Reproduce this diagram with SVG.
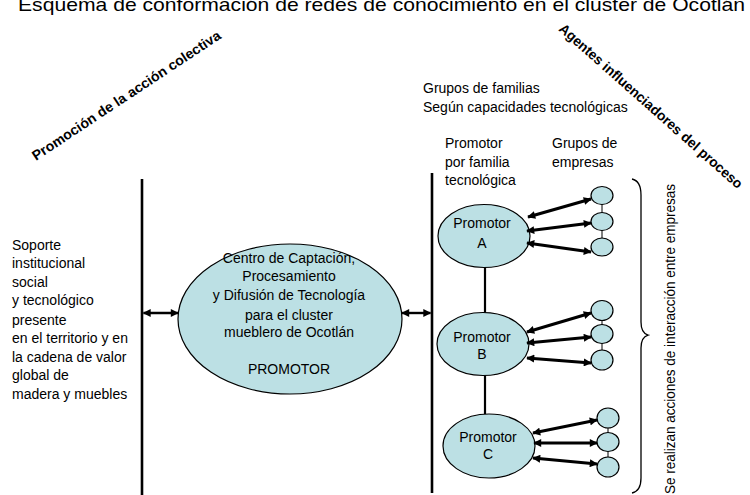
<svg xmlns="http://www.w3.org/2000/svg" width="750" height="495" viewBox="0 0 750 495">
<style>
text{font-family:"Liberation Sans",Arial,sans-serif;font-size:14px;fill:#000}
.b{font-weight:bold}
.c{text-anchor:middle}
.node{fill:#BCE0E4;stroke:#000;stroke-width:1.2}
.vl{stroke:#000;stroke-width:2.6;fill:none}
.cn{stroke:#000;stroke-width:2.2;fill:none}
.ar{stroke:#000;stroke-width:3;fill:none;marker-start:url(#ah);marker-end:url(#ah)}
.ar2{stroke:#000;stroke-width:2.4;fill:none;marker-start:url(#ah);marker-end:url(#ah)}
.sm{stroke:#000;stroke-width:1;fill:none}
</style>
<defs>
<marker id="ah" viewBox="0 0 10 10" refX="9" refY="5" markerWidth="9" markerHeight="8" markerUnits="userSpaceOnUse" orient="auto-start-reverse">
<path d="M0,0 L10,5 L0,10 z" fill="#000"/>
</marker>
</defs>
<rect width="750" height="495" fill="#fff"/>
<text x="18" y="11" style="font-size:18.5px" textLength="727" lengthAdjust="spacingAndGlyphs">Esquema de conformación de redes de conocimiento en el cluster de Ocotlán</text>
<text class="b" transform="translate(36,161) rotate(-33.5)" textLength="223" lengthAdjust="spacingAndGlyphs">Promoción de la acción colectiva</text>
<text class="b" transform="translate(558,30) rotate(41.6)" textLength="240" lengthAdjust="spacingAndGlyphs">Agentes influenciadores del proceso</text>
<g id="soporte">
<text x="12" y="250">Soporte</text>
<text x="12" y="268">institucional</text>
<text x="12" y="287">social</text>
<text x="12" y="305">y tecnológico</text>
<text x="12" y="325">presente</text>
<text x="12" y="343">en el territorio y en</text>
<text x="12" y="362">la cadena de valor</text>
<text x="12" y="380">global de</text>
<text x="12" y="399">madera y muebles</text>
</g>
<g id="labels">
<text x="423" y="93">Grupos de familias</text>
<text x="423" y="112">Según capacidades tecnológicas</text>
<text x="445" y="148">Promotor</text>
<text x="445" y="167">por familia</text>
<text x="445" y="185">tecnológica</text>
<text x="552" y="148">Grupos de</text>
<text x="552" y="167">empresas</text>
<text transform="translate(675,494) rotate(-90)" textLength="310" lengthAdjust="spacingAndGlyphs">Se realizan acciones de interacción entre empresas</text>
</g>
<g id="centro">
<ellipse class="node" cx="290" cy="319" rx="112" ry="75"/>
<text class="c" x="289" y="263">Centro de Captación,</text>
<text class="c" x="289" y="281">Procesamiento</text>
<text class="c" x="289" y="300">y Difusión de Tecnología</text>
<text class="c" x="289" y="320">para el cluster</text>
<text class="c" x="289" y="337">mueblero de Ocotlán</text>
<text class="c" x="289" y="374">PROMOTOR</text>
</g>
<g id="promotorA">
<ellipse class="node" cx="484" cy="236" rx="46" ry="31.5"/>
<text class="c" x="482" y="228">Promotor</text>
<text class="c" x="482" y="248">A</text>
</g>
<g id="promotorB">
<ellipse class="node" cx="483" cy="344" rx="46" ry="31.5"/>
<text class="c" x="482" y="342">Promotor</text>
<text class="c" x="482" y="359">B</text>
</g>
<g id="promotorC">
<ellipse class="node" cx="489" cy="446" rx="46" ry="32"/>
<text class="c" x="488" y="442">Promotor</text>
<text class="c" x="488" y="459">C</text>
</g>
<g id="empresasA">
<line class="sm" x1="602" y1="195" x2="602" y2="247"/>
<ellipse class="node" cx="602" cy="195.5" rx="11" ry="9"/>
<ellipse class="node" cx="602" cy="221.5" rx="11" ry="9"/>
<ellipse class="node" cx="602" cy="247" rx="11" ry="9"/>
</g>
<g id="empresasB">
<line class="sm" x1="602" y1="310" x2="602" y2="360"/>
<ellipse class="node" cx="602" cy="310.5" rx="11" ry="10"/>
<ellipse class="node" cx="602" cy="334" rx="11" ry="9.5"/>
<ellipse class="node" cx="602" cy="360" rx="11" ry="10"/>
</g>
<g id="empresasC">
<line class="sm" x1="608" y1="418" x2="608" y2="467"/>
<ellipse class="node" cx="608" cy="418" rx="11" ry="10"/>
<ellipse class="node" cx="608" cy="442" rx="11" ry="9.5"/>
<ellipse class="node" cx="608" cy="467" rx="11" ry="10"/>
</g>
<g id="connectors">
<line class="vl" x1="142" y1="179" x2="142" y2="495"/>
<line class="vl" x1="432" y1="173" x2="432" y2="493"/>
<line class="ar2" x1="143.5" y1="313" x2="178" y2="313"/>
<line class="ar2" x1="402" y1="313" x2="430.5" y2="313"/>
<line class="cn" x1="485" y1="267.5" x2="485" y2="312.5"/>
<line class="cn" x1="485" y1="375.5" x2="485" y2="414"/>
<line class="ar" x1="528" y1="217" x2="591" y2="199"/>
<line class="ar" x1="527" y1="231" x2="591" y2="223"/>
<line class="ar" x1="527" y1="243" x2="591" y2="252"/>
<line class="ar" x1="527" y1="332" x2="591" y2="313"/>
<line class="ar" x1="527" y1="343" x2="591" y2="337"/>
<line class="ar" x1="527" y1="358" x2="591" y2="363"/>
<line class="ar" x1="533" y1="433" x2="597" y2="420"/>
<line class="ar" x1="534" y1="443" x2="597" y2="443"/>
<line class="ar" x1="533" y1="458" x2="597" y2="464"/>
<path class="sm" style="stroke-width:1.3" d="M632,179 Q641,181 641,195 L641,322 Q641,333 648,335 Q641,337 641,348 L641,478 Q641,491 632,493"/>
</g>
</svg>
